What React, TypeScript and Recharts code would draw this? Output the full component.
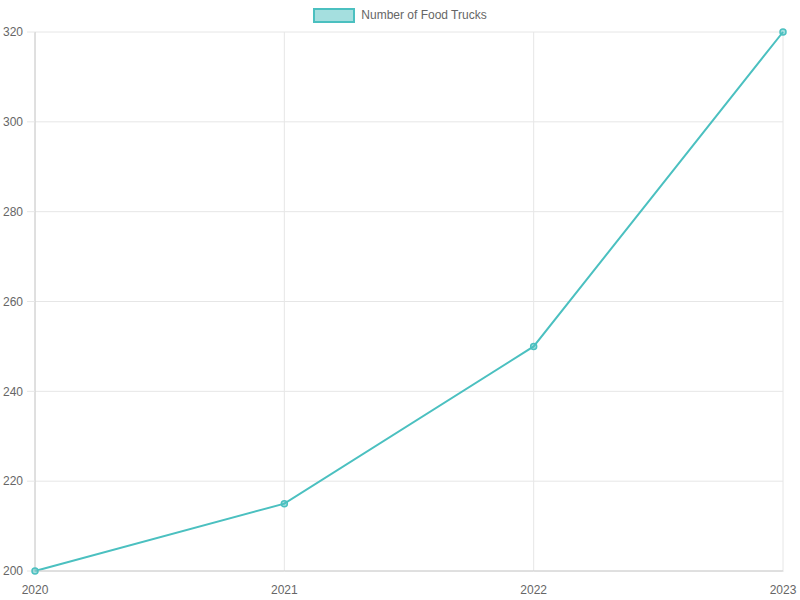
import React from 'react';
import { LineChart, Line, XAxis, YAxis, CartesianGrid, Legend } from 'recharts';

const years = ['2020', '2021', '2022', '2023'];
const foodTrucks = [200, 215, 250, 320];
const yTicks = [200, 220, 240, 260, 280, 300, 320];

const TEAL = '#4bc0c0';
const TEAL_FILL = 'rgba(75,192,192,0.5)';
const FONT = '"Liberation Sans", Arial, Helvetica, sans-serif';

const data = years.map((year, i) => ({ year, count: foodTrucks[i] }));

function LegendBox() {
  return (
    <div style={{ display: 'flex', justifyContent: 'center', alignItems: 'center', fontFamily: FONT, fontSize: 12, color: '#666', height: 14 }}>
      <span style={{ display: 'inline-block', width: 38, height: 11, background: TEAL_FILL, border: `2px solid ${TEAL}`, marginRight: 6 }} />
      <span>Number of Food Trucks</span>
    </div>
  );
}

export default function App() {
  const tick = { fontSize: 12, fill: '#666', fontFamily: FONT };
  return (
    <div style={{ position: 'absolute', left: 0, top: 0, width: 800, height: 600, background: '#fff' }}>
      <LineChart width={800} height={600} data={data} margin={{ top: 18, right: 17, bottom: 0, left: 0 }}>
        <CartesianGrid stroke="#e6e6e6" />
        <XAxis
          dataKey="year"
          height={29}
          tick={tick}
          tickSize={1}
          tickMargin={13}
          stroke="#ccc"
          tickLine={{ stroke: '#e6e6e6' }}
          padding={{ left: 0, right: 0 }}
        />
        <YAxis
          width={35}
          domain={[200, 320]}
          ticks={yTicks}
          tick={tick}
          tickSize={8}
          tickMargin={4}
          stroke="#ccc"
          tickLine={{ stroke: '#e6e6e6' }}
        />
        <Legend verticalAlign="top" content={() => <LegendBox />} wrapperStyle={{ top: 8, left: 0, width: 800 }} />
        <Line
          type="linear"
          dataKey="count"
          stroke={TEAL}
          strokeWidth={2}
          dot={{ r: 3, fill: TEAL_FILL, stroke: TEAL, strokeWidth: 1.5 }}
          isAnimationActive={false}
        />
      </LineChart>
    </div>
  );
}
